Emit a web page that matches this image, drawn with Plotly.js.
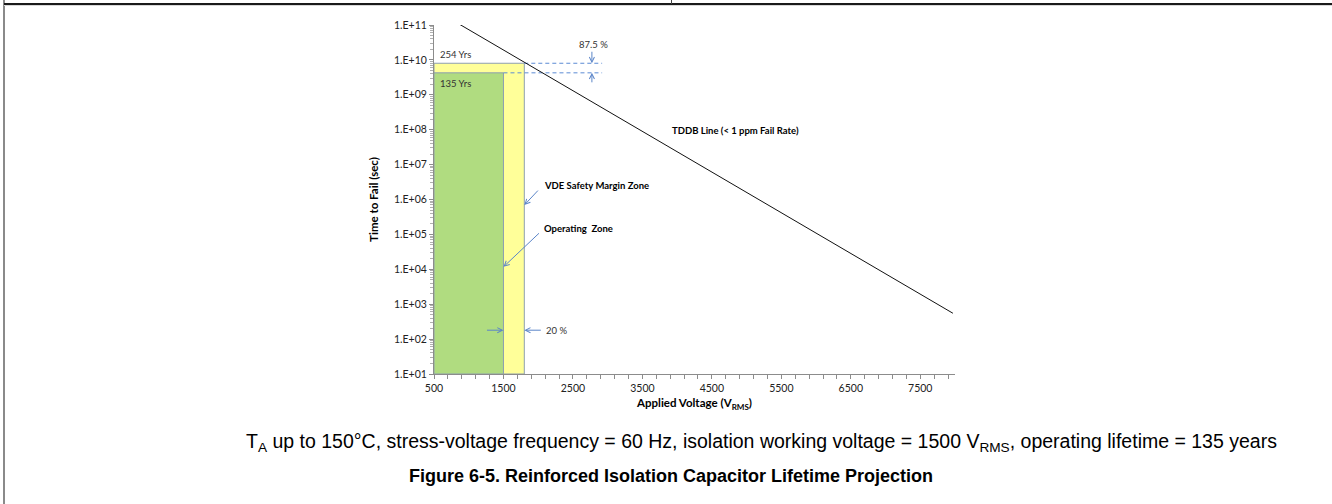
<!DOCTYPE html>
<html>
<head>
<meta charset="utf-8">
<script src="https://cdn.plot.ly/plotly-3.0.1.min.js"></script>
<style>
  html, body { margin: 0; padding: 0; background: #fff; }
  #wrap { position: relative; width: 1332px; height: 504px; overflow: hidden; }
  #chart { position: absolute; left: 0; top: 0; width: 1332px; height: 504px; }
  .frame { position: absolute; pointer-events: none; }
</style>
</head>
<body>
<div id="wrap">
  <div id="chart"></div>
  <div class="frame" style="left:3px; top:0; width:2px; height:504px; background:#8a8a8a;"></div>
  <div class="frame" style="left:4px; top:3px; width:1328px; height:2px; background:#1a1a1a;"></div>
  <div class="frame" style="left:4px; top:5px; width:1328px; height:1px; background:#d8d8d8;"></div>
  <div class="frame" style="left:671px; top:0; width:1px; height:4px; background:#444;"></div>
</div>
<script>
// ---- data ----
const tddbVoltage = [860, 7970];            // V_RMS, ends of the TDDB line
const tddbTimeToFail = [1.07e11, 5.5e2];    // seconds
const zoneStartVoltage = 500;
const operatingVoltage = 1500;              // V_RMS
const vdeVoltage = 1800;                    // V_RMS (+20 %)
const operatingLifetimeYrs = 135;
const vdeLifetimeYrs = 254;
const secondsPerYear = 3.156e7;
const dashEndVoltage = 2920;
const axisMinTime = 1e1;

const xTickVals = [500, 1500, 2500, 3500, 4500, 5500, 6500, 7500];
const xTickText = ['500', '1500', '2500', '3500', '4500', '5500', '6500', '7500'];
const yTickVals = [1e1, 1e2, 1e3, 1e4, 1e5, 1e6, 1e7, 1e8, 1e9, 1e10, 1e11];
const yTickText = ['1.E+01', '1.E+02', '1.E+03', '1.E+04', '1.E+05', '1.E+06', '1.E+07', '1.E+08', '1.E+09', '1.E+10', '1.E+11'];

const opTime = operatingLifetimeYrs * secondsPerYear;
const vdeTime = vdeLifetimeYrs * secondsPerYear;
const L = Math.log10;

const chartFont = 'Lato, "Open Sans", sans-serif';
const captionFont = '"Liberation Sans", Arial, sans-serif';
const zoneBorder = '#8d9fb0';
const dashBlue = '#5b8bd4';
const arrowBlue = '#5b85c8';

const traces = [
  { x: [zoneStartVoltage, vdeVoltage, vdeVoltage, zoneStartVoltage, zoneStartVoltage],
    y: [axisMinTime, axisMinTime, vdeTime, vdeTime, axisMinTime],
    mode: 'lines', fill: 'toself', fillcolor: '#ffff99',
    line: { color: zoneBorder, width: 1 }, hoverinfo: 'skip' },
  { x: [zoneStartVoltage, operatingVoltage, operatingVoltage, zoneStartVoltage, zoneStartVoltage],
    y: [axisMinTime, axisMinTime, opTime, opTime, axisMinTime],
    mode: 'lines', fill: 'toself', fillcolor: '#b0dc80',
    line: { color: zoneBorder, width: 1 }, hoverinfo: 'skip' },
  { x: [vdeVoltage, dashEndVoltage], y: [vdeTime, vdeTime], mode: 'lines',
    line: { color: dashBlue, width: 1, dash: '4px,3px' }, hoverinfo: 'skip' },
  { x: [operatingVoltage, dashEndVoltage], y: [opTime, opTime], mode: 'lines',
    line: { color: dashBlue, width: 1, dash: '4px,3px' }, hoverinfo: 'skip' },
  { x: tddbVoltage, y: tddbTimeToFail, mode: 'lines',
    line: { color: '#111', width: 1 }, hoverinfo: 'skip' }
];

const txt = () => ({ family: chartFont, size: 9.5, color: '#333' });
const bold = { family: chartFont, size: 9.5, color: '#000' };
const arrowX = 2773;
const arrow20Y = L(180);
const arr = { arrowhead: 5, arrowsize: 1, arrowwidth: 1, arrowcolor: arrowBlue, showarrow: true, text: '' };

const annotations = [
  // year labels
  { x: 555, y: L(vdeTime), xref: 'x', yref: 'y', text: '254 Yrs', showarrow: false,
    xanchor: 'left', yanchor: 'bottom', yshift: 1, font: txt() },
  { x: 555, y: L(opTime), xref: 'x', yref: 'y', text: '135 Yrs', showarrow: false,
    xanchor: 'left', yanchor: 'top', yshift: -3, font: txt() },
  // 87.5 %
  { x: arrowX + 20, y: L(vdeTime), xref: 'x', yref: 'y', text: '87.5 %', showarrow: false,
    xanchor: 'center', yanchor: 'middle', yshift: 19, font: txt() },
  Object.assign({ x: arrowX, y: L(vdeTime), xref: 'x', yref: 'y', ax: 0, ay: -13 }, arr),
  Object.assign({ x: arrowX, y: L(opTime), xref: 'x', yref: 'y', ax: 0, ay: 11 }, arr),
  // TDDB line label
  { x: 3900, y: 0.699, xref: 'x', yref: 'paper', text: '<b>TDDB Line (< 1 ppm Fail Rate)</b>',
    showarrow: false, xanchor: 'left', yanchor: 'middle', font: bold },
  // zone labels
  { x: 2055, y: 0.5415, xref: 'x', yref: 'paper', text: '<b>VDE Safety Margin Zone</b>',
    showarrow: false, xanchor: 'left', yanchor: 'middle', font: bold },
  { x: 2055, y: 0.4155, xref: 'x', yref: 'paper', text: '<b>Operating  Zone</b>',
    showarrow: false, xanchor: 'left', yanchor: 'middle', font: bold },
  Object.assign({ x: vdeVoltage, y: 5.84, xref: 'x', yref: 'y', ax: 15, ay: -16 }, arr),
  Object.assign({ x: operatingVoltage, y: 4.07, xref: 'x', yref: 'y', ax: 37, ay: -35 }, arr),
  // 20 %
  Object.assign({ x: operatingVoltage, y: arrow20Y, xref: 'x', yref: 'y', ax: -18, ay: 0 }, arr),
  Object.assign({ x: vdeVoltage, y: arrow20Y, xref: 'x', yref: 'y', ax: 18, ay: 0 }, arr),
  { x: vdeVoltage, y: arrow20Y, xref: 'x', yref: 'y', text: '20 %', showarrow: false,
    xanchor: 'left', yanchor: 'middle', xshift: 20, font: txt() },
  // captions
  { x: 0.628, y: -0.195, xref: 'paper', yref: 'paper', showarrow: false,
    text: 'T<sub>A</sub> up to 150°C, stress-voltage frequency = 60 Hz, isolation working voltage = 1500 V<sub>RMS</sub>, operating lifetime = 135 years',
    xanchor: 'center', yanchor: 'middle',
    font: { family: captionFont, size: 19.5, color: '#000' } },
  { x: 0.455, y: -0.292, xref: 'paper', yref: 'paper', showarrow: false,
    text: '<b>Figure 6-5. Reinforced Isolation Capacitor Lifetime Projection</b>',
    xanchor: 'center', yanchor: 'middle',
    font: { family: captionFont, size: 18, color: '#000' } }
];

const axisColor = '#8c8c8c';
const tickFont = { family: chartFont, size: 10.5, color: '#222' };
const titleFont = { family: chartFont, size: 11.5, color: '#000' };
const layout = {
  width: 1332, height: 504,
  margin: { l: 434, r: 377, t: 25, b: 130, pad: 0 },
  paper_bgcolor: '#fff', plot_bgcolor: '#fff',
  showlegend: false,
  font: { family: chartFont, size: 10, color: '#222' },
  xaxis: {
    range: [500, 8000], showgrid: false, zeroline: false,
    showline: true, linecolor: axisColor, linewidth: 1,
    ticks: 'outside', ticklen: 4, tickcolor: axisColor, tickwidth: 1,
    tickmode: 'array', tickvals: xTickVals, ticktext: xTickText,
    tickfont: tickFont,
    minor: { tickmode: 'linear', tick0: 500, dtick: 200, ticks: 'outside', ticklen: 4,
             tickcolor: axisColor, tickwidth: 1, showgrid: false },
    title: { text: '<b>Applied Voltage (V<sub>RMS</sub>)</b>', standoff: 6, font: titleFont }
  },
  yaxis: {
    type: 'log', range: [1, 11], showgrid: false, zeroline: false,
    showline: true, linecolor: axisColor, linewidth: 1,
    ticks: 'outside', ticklen: 4, tickcolor: axisColor, tickwidth: 1,
    tickmode: 'array', tickvals: yTickVals, ticktext: yTickText,
    tickfont: tickFont,
    minor: { dtick: 'D1', ticks: 'outside', ticklen: 3, tickcolor: '#b0b0b0',
             tickwidth: 1, showgrid: false },
    title: { text: '<b>Time to Fail (sec)</b>', standoff: 12, font: titleFont }
  },
  annotations: annotations
};

Plotly.newPlot('chart', traces, layout, { staticPlot: true, displayModeBar: false });
</script>
</body>
</html>
